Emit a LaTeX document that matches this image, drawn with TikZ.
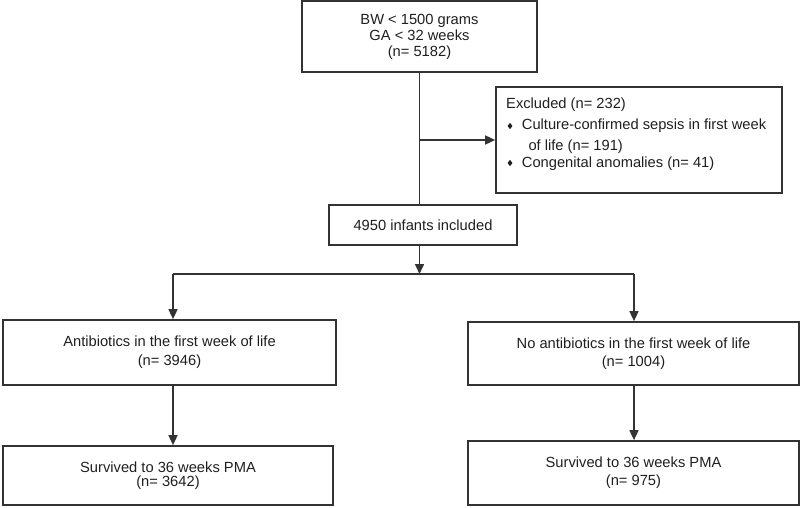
\documentclass[tikz,border=0pt]{standalone}
\usepackage{fontspec}
\setmainfont{Liberation Sans}
\usetikzlibrary{arrows.meta,shapes.geometric,calc}
\definecolor{linec}{gray}{0.2}
\definecolor{textc}{gray}{0.12}
\begin{document}
\begin{tikzpicture}[x=1pt,y=-1pt,
  box/.style={draw=linec, line width=1.7pt, align=center, inner sep=0pt, text=textc},
  conn/.style={draw=linec, line width=1.6pt},
  arr/.style={conn, -{Triangle[length=10pt,width=9pt]}},
  bul/.style={diamond, fill=textc, inner sep=0pt, minimum width=5pt, minimum height=6.5pt},
  lbl/.style={anchor=base west, inner sep=0pt, font=\fontsize{14.7}{17}\selectfont, text=textc}]
\useasboundingbox (0,0) rectangle (800,508);
% boxes
\node[box, minimum width=235pt, minimum height=71pt, font=\fontsize{14.7}{16}\selectfont] (top) at (419.5,36.5) {BW < 1500 grams\\GA < 32 weeks\\(n= 5182)};
\node[box, minimum width=286pt, minimum height=106pt] (excl) at (639,140) {};
\node[lbl] (ex0) at (506,109) {Excluded (n= 232)};
\node[bul] (b1) at (510,126) {};
\node[lbl] (ex1) at (521.7,130) {Culture-confirmed sepsis in first week};
\node[lbl] (ex2) at (528.3,150) {of life (n= 191)};
\node[bul] (b2) at (510,163) {};
\node[lbl] (ex3) at (521.7,167) {Congenital anomalies (n= 41)};
\node[box, minimum width=188pt, minimum height=40pt, font=\fontsize{14.7}{17}\selectfont] (inc) at (423,225) {4950 infants included};
\node[box, minimum width=333pt, minimum height=65pt, font=\fontsize{14.7}{19}\selectfont] (ab) at (169.5,352.5) {Antibiotics in the first week of life\\(n= 3946)};
\node[box, minimum width=331pt, minimum height=63pt, font=\fontsize{14.7}{18}\selectfont] (nab) at (633.5,353.5) {No antibiotics in the first week of life\\(n= 1004)};
\node[box, minimum width=330pt, minimum height=59pt, font=\fontsize{14.7}{14.5}\selectfont] (abs) at (168,475.5) {Survived to 36 weeks PMA\\(n= 3642)};
\node[box, minimum width=331pt, minimum height=64pt, font=\fontsize{14.7}{18}\selectfont] (nabs) at (633.5,473) {Survived to 36 weeks PMA\\(n= 975)};
% connectors
\coordinate (hl) at (173,274);
\coordinate (hr) at (634,274);
\draw[conn] (top.south) -- (top.south |- inc.north);
\draw[arr] (top.south |- excl.west) -- (excl.west);
\draw[arr] (top.south |- inc.south) -- (top.south |- hl);
\draw[conn] (hl) -- (hr);
\draw[arr] (hl) -- (hl |- ab.north);
\draw[arr] (hr) -- (hr |- nab.north);
\draw[arr] (hl |- ab.south) -- (hl |- abs.north);
\draw[arr] (hr |- nab.south) -- (hr |- nabs.north);
\end{tikzpicture}
\end{document}
